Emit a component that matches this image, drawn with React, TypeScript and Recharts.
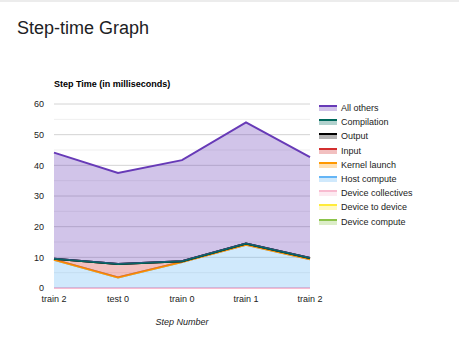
import {
  AreaChart,
  Area,
  XAxis,
  YAxis,
  CartesianGrid,
  Legend,
} from "recharts";

const steps = ["train 2", "test 0", "train 0", "train 1", "train 2"];

const deviceCompute = [0, 0, 0, 0, 0];
const deviceToDevice = [0, 0, 0, 0, 0];
const deviceCollectives = [0, 0, 0, 0, 0];
const hostCompute = [9.2, 3.4, 8.5, 14.1, 9.4];
const kernelLaunch = [0, 0, 0, 0, 0];
const input = [0.35, 4.4, 0.2, 0.4, 0.4];
const output = [0, 0, 0, 0, 0];
const compilation = [0, 0, 0, 0, 0];
const allOthers = [34.6, 29.7, 33.0, 39.5, 32.9];

const yTicks = [0, 10, 20, 30, 40, 50, 60];
const minorTicks = [5, 15, 25, 35, 45, 55];

// stacking order, bottom first
const series = [
  { key: "deviceCompute", name: "Device compute", color: "#8bc34a", values: deviceCompute },
  { key: "deviceToDevice", name: "Device to device", color: "#ffeb3b", values: deviceToDevice },
  { key: "deviceCollectives", name: "Device collectives", color: "#f8bbd0", values: deviceCollectives },
  { key: "hostCompute", name: "Host compute", color: "#64b5f6", values: hostCompute },
  { key: "kernelLaunch", name: "Kernel launch", color: "#ff9800", values: kernelLaunch },
  { key: "input", name: "Input", color: "#d32f2f", values: input },
  { key: "output", name: "Output", color: "#000000", values: output },
  { key: "compilation", name: "Compilation", color: "#00695c", values: compilation },
  { key: "allOthers", name: "All others", color: "#673ab7", values: allOthers },
];

const chartData = steps.map((step, i) => {
  const row: Record<string, string | number> = { step };
  series.forEach((s) => {
    row[s.key] = s.values[i];
  });
  return row;
});

const font = "'Liberation Sans', Arial, sans-serif";

const renderLegend = () => (
  <div style={{ fontFamily: font, fontSize: 9, color: "#222" }}>
    {[...series].reverse().map((s) => (
      <div
        key={s.key}
        style={{ display: "flex", alignItems: "center", height: 14.2 }}
      >
        <div style={{ width: 18, marginRight: 4 }}>
          <div style={{ height: 2, background: s.color }} />
          <div style={{ height: 4, background: s.color, opacity: 0.3 }} />
        </div>
        <span>{s.name}</span>
      </div>
    ))}
  </div>
);

export default function App() {
  return (
    <div
      style={{
        position: "absolute",
        left: 0,
        top: 0,
        width: 459,
        height: 349,
        background: "#fff",
        fontFamily: font,
      }}
    >
      <div style={{ height: 2, background: "#ececec" }} />
      <div
        style={{
          position: "absolute",
          left: 17,
          top: 18,
          fontSize: 18,
          color: "#202124",
        }}
      >
        Step-time Graph
      </div>
      <div
        style={{
          position: "absolute",
          left: 54,
          top: 79,
          fontSize: 9,
          fontWeight: "bold",
          color: "#000",
        }}
      >
        Step Time (in milliseconds)
      </div>
      <div
        style={{
          position: "absolute",
          left: 0,
          width: 364,
          top: 317,
          textAlign: "center",
          fontSize: 9,
          fontStyle: "italic",
          color: "#222",
        }}
      >
        Step Number
      </div>
      <div style={{ position: "absolute", left: 0, top: 0 }}>
        <AreaChart
          width={459}
          height={349}
          data={chartData}
          margin={{ top: 104, right: 149, bottom: 31, left: 0 }}
        >
          <CartesianGrid
            vertical={false}
            horizontalValues={minorTicks}
            stroke="#efefef"
          />
          <CartesianGrid
            vertical={false}
            horizontalValues={yTicks}
            stroke="#d4d4d4"
          />
          <XAxis
            dataKey="step"
            height={30}
            axisLine={false}
            tickLine={false}
            tickSize={0}
            tickMargin={8}
            interval={0}
            tick={{ fontSize: 9, fill: "#222", fontFamily: font }}
          />
          <YAxis
            width={54}
            domain={[0, 60]}
            ticks={yTicks}
            axisLine={false}
            tickLine={false}
            tickSize={0}
            tickMargin={10}
            tick={{ fontSize: 9, fill: "#222", fontFamily: font }}
          />
          {series.map((s) => (
            <Area
              key={s.key}
              type="linear"
              dataKey={s.key}
              name={s.name}
              stackId="1"
              stroke={s.color}
              strokeWidth={2}
              fill={s.color}
              fillOpacity={0.3}
              dot={false}
              activeDot={false}
              isAnimationActive={false}
            />
          ))}
          <Legend
            layout="vertical"
            align="center"
            verticalAlign="middle"
            wrapperStyle={{ left: 319, top: 101, width: 130 }}
            content={renderLegend}
          />
        </AreaChart>
      </div>
    </div>
  );
}
